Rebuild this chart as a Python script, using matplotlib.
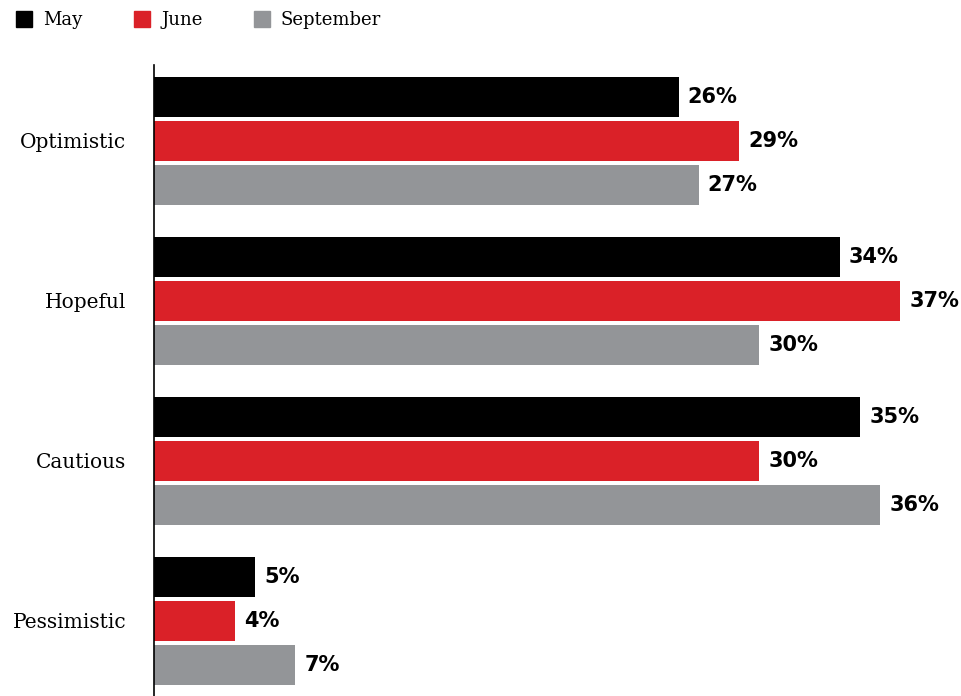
import numpy as np
import matplotlib.pyplot as plt
from matplotlib.patches import Rectangle

categories = ['Optimistic', 'Hopeful', 'Cautious', 'Pessimistic']
series = ['May', 'June', 'September']
may = [26, 34, 35, 5]
june = [29, 37, 30, 4]
september = [27, 30, 36, 7]
colors = ['#000000', '#da2128', '#939598']

W, H = 961, 696
fig = plt.figure(figsize=(W / 100, H / 100), dpi=100)
ax = fig.add_axes([154 / W, 0, 1 - 154 / W, 1 - 65 / H])

y = np.arange(len(categories))
offsets = [-0.275, 0, 0.275]
for vals, off, c in zip([may, june, september], offsets, colors):
    bars = ax.barh(y + off, vals, height=0.25, color=c)
    for b, v in zip(bars, vals):
        ax.text(b.get_width() + 0.45, b.get_y() + b.get_height() / 2, f'{v}%',
                va='center', ha='left', fontsize=15, fontweight='heavy',
                family='DejaVu Sans', color='black')

ax.set_xlim(0, 40)
ax.set_ylim(3.47, -0.475)
ax.set_yticks(y)
ax.set_yticklabels(categories, family='DejaVu Serif', fontsize=14.5)
ax.tick_params(axis='y', length=0, pad=20)
ax.set_xticks([])
for s in ['top', 'right', 'bottom']:
    ax.spines[s].set_visible(False)
ax.spines['left'].set_linewidth(1.2)

# legend drawn by hand to match spacing
legend_x = [16, 134, 254]
for lx, c, s in zip(legend_x, colors, series):
    fig.patches.append(Rectangle((lx / W, 1 - 27 / H), 16 / W, 16 / H,
                                 color=c, transform=fig.transFigure))
    fig.text((lx + 27) / W, 1 - 20 / H, s, va='center', ha='left',
             family='DejaVu Serif', fontsize=13)

fig.savefig('out.png', dpi=100)
